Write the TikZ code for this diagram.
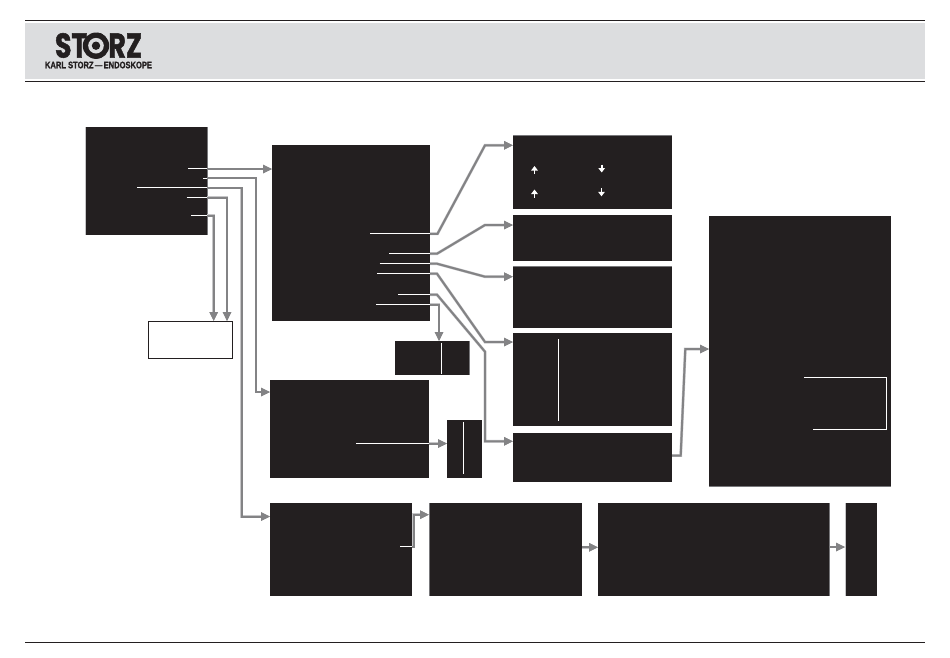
\documentclass[tikz,border=0pt]{standalone}
\usepackage{graphicx}
\usepackage{fontspec}
\setmainfont{Liberation Sans}[BoldFeatures={FakeBold=1.2}]
\newfontfamily\logofont{Poppins}[BoldFeatures={FakeBold=1.6}]
\usetikzlibrary{arrows.meta,calc}
\definecolor{ink}{HTML}{231F20}
\definecolor{wire}{HTML}{838385}
\definecolor{halo}{HTML}{C6C6C8}
\definecolor{band}{HTML}{DCDDDF}
\definecolor{edgegray}{HTML}{77777A}
\tikzset{
  x=1pt,y=-1pt,
  blockbox/.style={fill=ink,draw=none,inner sep=0pt,outer sep=0pt,anchor=north west},
  openbox/.style={fill=white,draw=ink,line width=0.9pt,inner sep=0pt,outer sep=0pt,anchor=north west},
  wireline/.style={draw=wire,line width=2pt,line join=miter},
  wirearrow/.style={preaction={draw=halo,line width=2.8pt},wireline,-{Triangle[length=9pt,width=8pt,color=wire]}},
  callout/.style={draw=white,line width=1pt},
  rimline/.style={draw=edgegray,line width=0.9pt},
  paleline/.style={draw=halo,line width=0.9pt},
  rule/.style={draw=ink,line width=1.4pt},
  tinyarrow/.style={draw=white,line width=1.6pt,-{Triangle[length=4.5pt,width=6.5pt,color=white]}}
}
\newcommand{\blk}[6][blockbox]{\node[#1,minimum width={(#5-#3)*1pt},minimum height={(#6-#4)*1pt}] (#2) at (#3,#4) {};}
\begin{document}
\begin{tikzpicture}
\useasboundingbox (0,0) rectangle (950,657);
\fill[white] (0,0) rectangle (950,657);
% header
\fill[band] (25,23) rectangle (925,79);
\draw[rule] (25,20.4) -- (925,20.4);
\draw[rule] (25,81.3) -- (925,81.3);
\draw[rule] (25,642.5) -- (925,642.5);
\node[inner sep=0pt,text=ink] (logo) at (98.5,45.5) {\resizebox{87pt}{24.5pt}{\logofont\bfseries STORZ}};
\fill[ink] (96,45.7) circle[radius=13.2pt];
\fill[band] (96,45.7) circle[radius=7.8pt];
\fill[ink] (96,45.7) circle[radius=4.2pt];
\node[inner sep=0pt,text=ink] (logosub) at (98.5,65) {\resizebox{107pt}{6.6pt}{\bfseries KARL STORZ\,---\,ENDOSKOPE}};
% boxes
\blk{A}{85}{127}{207}{235}
\blk{B}{272}{145}{430}{321}
\blk[openbox]{C}{148.5}{321}{232.5}{358.5}
\blk{Da}{513}{135.5}{672}{209}
\blk{Db}{513}{215}{672}{261}
\blk{Dc}{513}{266.5}{672}{328}
\blk{Dd}{513}{333}{672}{426}
\blk{De}{513}{433}{672}{482}
\blk{E}{395}{341}{469}{375}
\blk{F}{270}{380}{429}{478}
\blk{G}{447}{420}{482}{478}
\blk{H}{709}{216}{891}{486.5}
\blk{I}{270}{503}{412}{596}
\blk{J}{429}{503}{582}{596}
\blk{K}{598}{503}{829.5}{596}
\blk{L}{845}{503}{877}{596}
% rims
\draw[rimline] (A.north east) -- (A.south east);
\draw[paleline] (A.north west) -- (A.south west);
\draw[rimline] (J.north west) -- (J.south west);
\draw[rimline] (K.north east) -- (K.south east);
\draw[rimline] (E.north east) -- (E.south east);
\draw[paleline] (L.north west) -- (L.south west);
\draw[rimline] (H.south west) -- (H.south east);
\draw[rimline] (Da.north west) -- (Da.north east);
\draw[rimline] (Dc.north west) -- (Dc.north east);
% ports
\coordinate (a1) at (A.east |- 0,169);
\coordinate (a2) at (A.east |- 0,178);
\coordinate (a3) at (A.east |- 0,188);
\coordinate (a4) at (A.east |- 0,197.5);
\coordinate (a5) at (A.east |- 0,215.7);
\coordinate (b1) at (B.east |- 0,233.8);
\coordinate (b2) at (B.east |- 0,253.7);
\coordinate (b3) at (B.east |- 0,263.7);
\coordinate (b4) at (B.east |- 0,273.7);
\coordinate (b5) at (B.east |- 0,294.7);
\coordinate (b6) at (B.east |- 0,304.7);
\coordinate (f1) at (F.east |- 0,443.5);
\coordinate (de1) at (De.east |- 0,455.5);
\coordinate (i1) at (I.east |- 0,547);
% connectors
\draw[wirearrow] (a1) -- (B.west |- a1);
\draw[wirearrow] (a2) -- (256,178) -- (256,392) -- (F.west |- 0,392);
\draw[wirearrow] (a3) -- (241.7,188) -- (241.7,516.5) -- (I.west |- 0,516.5);
\draw[wirearrow] (a4) -- (227,197.5) -- (C.north -| 227,0);
\draw[wirearrow] (a5) -- (213.7,215.7) -- (C.north -| 213.7,0);
\draw[wirearrow] (b1) -- (437.5,233.8) -- (485,145.3) -- (Da.west |- 0,145.3);
\draw[wirearrow] (b2) -- (437,253.7) -- (485,225) -- (Db.west |- 0,225);
\draw[wirearrow] (b3) -- (437,263.7) -- (485,276.7) -- (Dc.west |- 0,276.7);
\draw[wirearrow] (b4) -- (437,273.7) -- (485,342) -- (Dd.west |- 0,342);
\draw[wirearrow] (b5) -- (437,294.7) -- (485,351.7) -- (485,441.3) -- (De.west |- 0,441.3);
\draw[wirearrow] (b6) -- (439,304.7) -- (E.north -| 439,0);
\draw[wirearrow] (f1) -- (G.west |- f1);
\draw[wirearrow] (de1) -- (680.7,455.5) -- (685.3,349) -- (H.west |- 0,349);
\draw[wirearrow] (i1) -- (413.5,547) -- (413.5,514.7) -- (J.west |- 0,514.7);
\draw[wirearrow] (J.east |- 0,547.3) -- (K.west |- 0,547.3);
\draw[wirearrow] (K.east |- 0,547) -- (L.west |- 0,547);
% white callouts
\draw[callout] (188,168) -- (207,168);
\draw[callout] (203,178) -- (207,178);
\draw[callout] (137,187.3) -- (207,187.3);
\draw[callout] (186.5,197) -- (207,197);
\draw[callout] (191,215.3) -- (207,215.3);
\draw[callout] (370,233.3) -- (430,233.3);
\draw[callout] (389,253.3) -- (430,253.3);
\draw[callout] (379.5,263.3) -- (430,263.3);
\draw[callout] (377,273.3) -- (430,273.3);
\draw[callout] (398,294.3) -- (430,294.3);
\draw[callout] (376,304.3) -- (430,304.3);
\draw[callout] (356,443.3) -- (429,443.3);
\draw[callout] (441.3,343) -- (441.3,374);
\draw[callout] (463.3,422) -- (463.3,474);
\draw[callout] (558.3,339) -- (558.3,421);
\draw[callout] (804,377.3) -- (886.7,377.3) -- (886.7,429.3) -- (813.3,429.3);
\draw[callout] (400,546.7) -- (411.5,546.7);
% small arrows
\draw[tinyarrow] (534.5,174) -- (534.5,166);
\draw[tinyarrow] (534.5,197.5) -- (534.5,189.5);
\draw[tinyarrow] (601.7,164.5) -- (601.7,172.5);
\draw[tinyarrow] (601.5,188.3) -- (601.5,196.3);
\end{tikzpicture}
\end{document}
